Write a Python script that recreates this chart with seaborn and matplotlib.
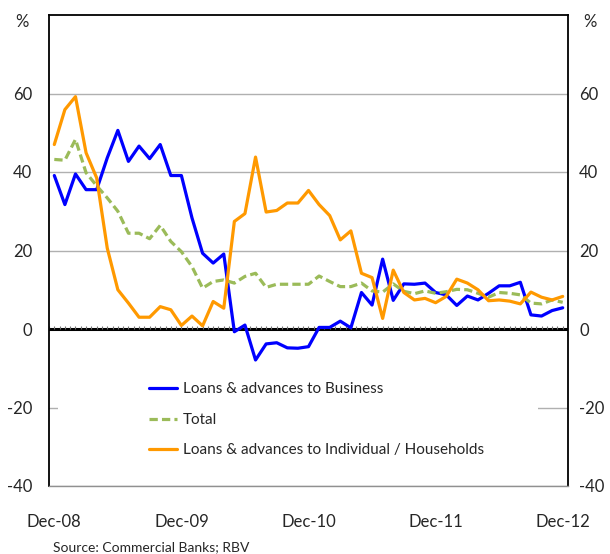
import numpy as np
import pandas as pd
import seaborn as sns
import matplotlib.pyplot as plt
from matplotlib.patches import Rectangle

# monthly growth rates (%), Dec-08 .. Dec-12
months = pd.date_range("2008-12-01", "2012-12-01", freq="MS").strftime("%b-%y").tolist()

business = [39.1, 31.7, 39.5, 35.5, 35.5, 43.6, 50.6, 42.7, 46.6, 43.4,
            47.0, 39.1, 39.1, 28.3, 19.3, 16.8, 19.1, -0.7, 1.0, -7.9,
            -3.8, -3.5, -4.8, -4.9, -4.5, 0.4, 0.4, 2.0, 0.3, 9.3,
            6.1, 17.8, 7.3, 11.5, 11.4, 11.7, 9.3, 8.7, 6.0, 8.4,
            7.4, 9.1, 11.0, 11.0, 11.9, 3.6, 3.3, 4.7, 5.4]
total = [43.2, 43.0, 48.3, 39.8, 36.5, 33.4, 30.0, 24.4, 24.4, 23.0,
         26.4, 22.3, 19.7, 15.9, 10.4, 12.1, 12.5, 11.7, 13.4, 14.2,
         10.6, 11.4, 11.4, 11.4, 11.4, 13.5, 12.1, 10.8, 10.8, 11.7,
         9.7, 9.4, 11.5, 9.6, 9.0, 9.7, 9.1, 9.5, 10.1, 10.0,
         9.1, 8.1, 9.3, 9.1, 8.7, 6.6, 6.4, 7.4, 6.8]
households = [47.0, 55.9, 59.2, 44.9, 38.5, 20.6, 10.0, 6.6, 3.0, 3.0,
              5.7, 4.9, 0.9, 3.3, 0.8, 7.0, 5.3, 27.4, 29.4, 43.8,
              29.8, 30.2, 32.1, 32.1, 35.3, 31.7, 28.9, 22.7, 25.0, 14.2,
              13.1, 2.7, 15.0, 9.3, 7.4, 7.8, 6.7, 8.3, 12.7, 11.7,
              10.0, 7.2, 7.4, 7.1, 6.4, 9.4, 8.1, 7.4, 8.3]

names = ["Loans & advances to Business", "Total",
         "Loans & advances to Individual / Households"]
colors = ["#0000FF", "#9BBB59", "#FF9900"]
xlabels = ["Dec-08", "Dec-09", "Dec-10", "Dec-11", "Dec-12"]

n = len(months)
df = pd.DataFrame({
    "idx": list(range(n)) * 3,
    "value": business + total + households,
    "series": [names[0]] * n + [names[1]] * n + [names[2]] * n,
})

sns.set_style("white")
plt.rcParams["font.family"] = ["Lato", "DejaVu Sans"]

fig = plt.figure(figsize=(6.10, 5.54), dpi=100)
ax = fig.add_axes([49 / 610, 68 / 554, 519 / 610, 471 / 554])

sns.lineplot(data=df, x="idx", y="value", hue="series", style="series",
             hue_order=names, style_order=names,
             palette=dict(zip(names, colors)),
             dashes={names[0]: "", names[1]: (2.6, 1.3), names[2]: ""},
             linewidth=2.3, ax=ax, zorder=3)

ax.set_xlim(-0.5, n - 0.5)
ax.set_ylim(-40, 80)
ax.set_yticks([-40, -20, 0, 20, 40, 60])
ax.set_yticklabels(["-40", "-20", "0", "20", "40", "60"])
ax.grid(axis="y", color="#b0b0b0", lw=1)
ax.set_axisbelow(True)
ax.tick_params(axis="y", length=0, labelsize=12, pad=12)

ax.set_xticks([0, 12, 24, 36, 48])
ax.set_xticklabels(xlabels)
ax.tick_params(axis="x", length=0, labelsize=12, pad=20)
ax.set_xlabel("")
ax.set_ylabel("")

# zero line with small category ticks
ax.axhline(0, color="black", lw=2.2, zorder=2)
ax.vlines(np.arange(-0.5, n, 0.5), 0, 0.8, color="#707070", lw=0.8, zorder=2)

for side in ["left", "right", "top"]:
    ax.spines[side].set_color("black")
    ax.spines[side].set_linewidth(1.3)
ax.spines["bottom"].set_color("#909090")
ax.spines["bottom"].set_linewidth(1.0)

# right-hand axis labels
ax2 = ax.twinx()
ax2.set_ylim(ax.get_ylim())
ax2.set_yticks([-40, -20, 0, 20, 40, 60])
ax2.set_yticklabels(["-40", "-20", "0", "20", "40", "60"])
ax2.tick_params(axis="y", length=0, labelsize=12, pad=8)
for s in ax2.spines.values():
    s.set_visible(False)

# white legend background hiding the -20 gridline
ax.add_patch(Rectangle((0.017, 0.035), 0.925, 0.223, transform=ax.transAxes,
                       facecolor="white", edgecolor="none", zorder=1))

ax.legend(loc="upper left", bbox_to_anchor=(0.193, 0.22), frameon=False,
          fontsize=11, handlelength=1.8, handletextpad=0.4, labelspacing=1.08,
          borderaxespad=0, borderpad=0)

fig.text(22 / 610, 1 - 22 / 554, "%", fontsize=12, ha="center", va="center")
fig.text(590 / 610, 1 - 22 / 554, "%", fontsize=12, ha="center", va="center")
fig.text(53 / 610, 1 - 547 / 554, "Source: Commercial Banks; RBV",
         fontsize=10, ha="left", va="center")

fig.savefig("out.png", dpi=100)
